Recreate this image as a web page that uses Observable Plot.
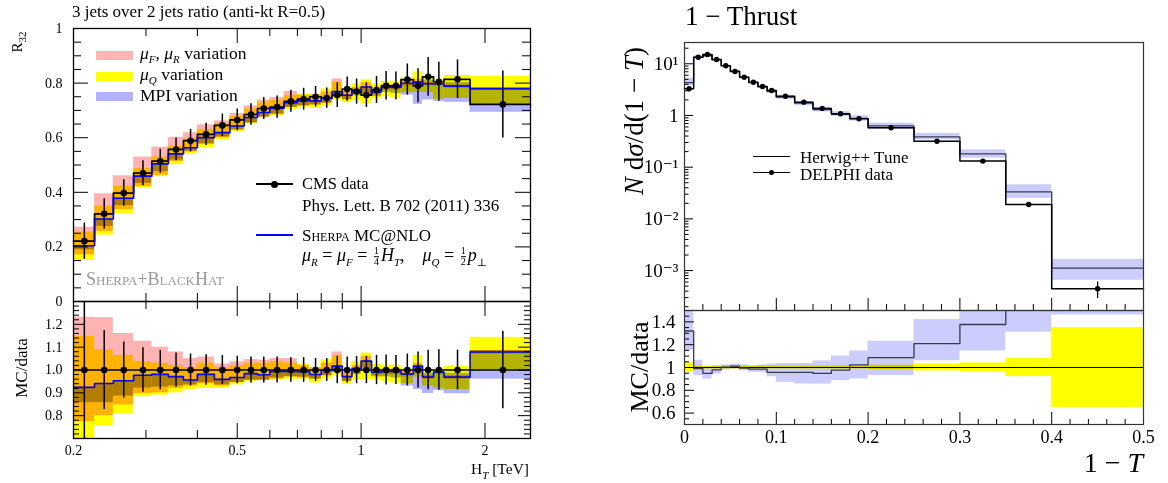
<!DOCTYPE html>
<html><head><meta charset="utf-8">
<script src="https://cdn.jsdelivr.net/npm/d3@7"></script>
<script src="https://cdn.jsdelivr.net/npm/@observablehq/plot@0.6"></script>
<style>
body{margin:0;background:#fff;}
#wrap{position:relative;width:1168px;height:483px;overflow:hidden;background:#fff;font-family:"Liberation Serif","DejaVu Serif",serif;}
.t{position:absolute;white-space:nowrap;color:#000;line-height:1;}
.fr{display:inline-block;vertical-align:middle;text-align:center;font-size:10px;line-height:1;margin:0 2px;}
.fr span{display:block;}
.fr span+span{border-top:1px solid #000;}
</style></head><body><div id="wrap"></div>
<script>
// ---------- Left panel: CMS R32 ----------
const edgesHT = [0.2,0.225,0.25,0.28,0.31,0.34,0.37,0.40,0.44,0.48,0.52,0.56,0.60,0.65,0.70,0.75,0.80,0.85,0.90,0.95,1.00,1.06,1.12,1.18,1.25,1.34,1.41,1.50,1.59,1.84,2.58];
const r32Data = [0.221,0.321,0.397,0.470,0.514,0.557,0.589,0.612,0.645,0.665,0.685,0.707,0.712,0.733,0.741,0.750,0.745,0.756,0.778,0.769,0.756,0.775,0.790,0.790,0.813,0.790,0.823,0.805,0.814,0.722];
const r32ErrRel = [0.30,0.173,0.123,0.097,0.086,0.075,0.070,0.067,0.064,0.060,0.057,0.057,0.057,0.054,0.054,0.050,0.050,0.060,0.057,0.060,0.060,0.064,0.066,0.064,0.070,0.079,0.086,0.089,0.087,0.170];
const sherpaRatio = [0.924,0.941,0.953,0.977,0.981,0.971,0.956,0.981,0.959,0.967,0.984,0.979,0.994,0.994,0.993,0.980,1.000,1.017,0.971,1.006,1.039,0.990,0.994,0.994,0.983,1.017,0.969,0.991,0.969,1.079];
const muFRLo = [0.774,0.80,0.847,0.897,0.90,0.92,0.93,0.94,0.93,0.945,0.955,0.955,0.96,0.97,0.965,0.96,0.975,0.99,0.95,0.985,1.01,0.975,0.98,0.98,0.97,1.0,0.96,0.98,0.96,1.07];
const muFRHi = [1.231,1.229,1.16,1.126,1.10,1.079,1.05,1.057,1.026,1.036,1.046,1.043,1.05,1.05,1.02,1.01,1.03,1.079,0.99,1.02,1.06,1.0,1.005,1.005,0.995,1.03,0.975,0.995,0.975,1.085];
const muQLo = [0.68,0.757,0.807,0.883,0.89,0.90,0.915,0.92,0.92,0.935,0.95,0.955,0.955,0.96,0.96,0.943,0.96,0.975,0.936,0.957,0.957,0.957,0.95,0.943,0.94,0.97,0.93,0.92,0.914,1.0];
const muQHi = [1.147,1.089,1.064,1.036,1.03,1.02,1.01,1.03,1.01,1.02,1.03,1.03,1.035,1.03,1.026,1.011,1.045,1.063,0.99,1.036,1.074,1.026,1.021,1.021,1.007,1.064,1.0,1.0,1.017,1.143];
const mpiLo = [0.857,0.857,0.886,0.921,0.925,0.93,0.935,0.945,0.935,0.945,0.955,0.955,0.965,0.97,0.969,0.96,0.975,0.99,0.95,0.98,1.0,0.97,0.97,0.965,0.93,0.914,0.897,0.91,0.896,0.96];
const mpiHi = [0.924,0.941,0.953,0.977,0.981,0.971,0.956,0.981,0.959,0.967,0.984,0.979,0.994,0.994,0.993,0.98,1.0,1.017,0.971,1.006,1.039,0.99,0.994,0.994,0.983,1.017,0.985,0.991,0.986,1.085];
const htMajorTicks = [0.5,1,2];
const htMinorTicks = [0.3,0.4,0.6,0.7,0.8,0.9];
const htLabels = [0.2,0.5,1,2];
const r32Labels = [0,0.2,0.4,0.6,0.8,1];
const ratioLabelsL = [0.8,0.9,1.0,1.1,1.2];

// ---------- Right panel: 1 - Thrust ----------
const edgesT = [0,0.01,0.02,0.03,0.04,0.05,0.06,0.07,0.08,0.09,0.10,0.12,0.14,0.16,0.18,0.20,0.25,0.30,0.35,0.40,0.50];
const delphiData = [3.28,13.4,15.1,12.1,9.15,7.1,5.5,4.4,3.64,3.04,2.36,1.81,1.37,1.08,0.863,0.578,0.318,0.131,0.019,0.000446];
const delphiErrRel = [0.04,0.012,0.012,0.012,0.012,0.012,0.012,0.012,0.012,0.012,0.012,0.012,0.012,0.012,0.012,0.02,0.03,0.04,0.08,0.35];
const herwigRatio = [1.32,0.991,0.948,0.98,1.003,1.012,0.994,0.986,0.986,0.957,0.957,0.957,0.948,0.977,1.023,1.087,1.21,1.377,1.75,2.5];
const herwigLo = [1.15,0.928,0.899,0.942,0.977,0.986,0.971,0.957,0.957,0.919,0.87,0.855,0.855,0.885,0.9,0.93,1.06,1.145,1.31,1.46];
const herwigHi = [1.6,1.064,1.006,1.014,1.023,1.029,1.023,1.014,1.023,1.029,1.035,1.035,1.058,1.1,1.145,1.23,1.42,1.65,2.4,3.7];
const tLabels = [0,0.1,0.2,0.3,0.4,0.5];
const decadeLabels = [10,1,0.1,0.01,0.001];
const ratioLabelsR = [0.6,0.8,1,1.2,1.4];

const FONT = '"Liberation Serif","DejaVu Serif",serif';
const PINK = "#ffb3b3", YEL = "#ffff00", MPI = "#b3b3ff", LAV = "#ccccff";
const wrap = document.getElementById("wrap");

const binsL = r32Data.map((v,i)=>({lo:edgesHT[i],hi:edgesHT[i+1],c:(edgesHT[i]+edgesHT[i+1])/2,v,e:r32ErrRel[i],mc:sherpaRatio[i],
  pl:muFRLo[i],ph:muFRHi[i],ql:muQLo[i],qh:muQHi[i],ml:mpiLo[i],mh:mpiHi[i]}));
const binsR = delphiData.map((v,i)=>({lo:edgesT[i],hi:edgesT[i+1],c:(edgesT[i]+edgesT[i+1])/2,v,e:delphiErrRel[i],mc:herwigRatio[i],bl:herwigLo[i],bh:herwigHi[i]}));
const step = (bins, f) => bins.flatMap(d=>[{x:d.lo,y:f(d)},{x:d.hi,y:f(d)}]);

function tk(values, axis, side, len, W, H, extra={}) {
  const o = {stroke:"#000", strokeWidth:1, ...extra};
  if (axis==="x") return Plot.tickX(values, {x:d=>d, ...(side==="bottom"?{insetTop:H-len}:{insetBottom:H-len}), ...o});
  return Plot.tickY(values, {y:d=>d, ...(side==="left"?{insetRight:W-len}:{insetLeft:W-len}), ...o});
}
function place(svg, left, top) {
  svg.style.position="absolute"; svg.style.left=left+"px"; svg.style.top=top+"px";
  wrap.appendChild(svg);
}
function blend(svg) {
  d3.select(svg).selectAll("g[aria-label='rect']").style("mix-blend-mode","multiply");
}
const st = (fs)=>({background:"transparent",overflow:"visible",fontFamily:FONT,fontSize:fs+"px",color:"#000"});

// Left main
{
  const W=457,H=273;
  const minorY = d3.range(1,20).map(i=>i*0.05).filter(v=>Math.abs(v*5-Math.round(v*5))>1e-6);
  const svg = Plot.plot({
    width:545,height:301,marginLeft:73,marginRight:15,marginTop:28,marginBottom:0,
    x:{type:"log",domain:[0.2,2.58],axis:null},
    y:{domain:[0,1]},
    style:st(14),
    marks:[
      Plot.rect(binsL,{x1:"lo",x2:"hi",y1:d=>d.ql*d.v,y2:d=>d.qh*d.v,fill:YEL,mixBlendMode:"multiply"}),
      Plot.rect(binsL,{x1:"lo",x2:"hi",y1:d=>d.pl*d.v,y2:d=>d.ph*d.v,fill:PINK,mixBlendMode:"multiply"}),
      Plot.rect(binsL,{x1:"lo",x2:"hi",y1:d=>d.ml*d.v,y2:d=>d.mh*d.v,fill:MPI,mixBlendMode:"multiply"}),
      Plot.line(step(binsL,d=>d.v),{x:"x",y:"y",stroke:"#000",strokeWidth:1.7}),
      Plot.line(step(binsL,d=>d.mc*d.v),{x:"x",y:"y",stroke:"#0000ff",strokeWidth:1.6}),
      Plot.ruleX(binsL,{x:"c",y1:d=>d.v*(1-d.e),y2:d=>d.v*(1+d.e),stroke:"#000",strokeWidth:1.5}),
      Plot.dot(binsL,{x:"c",y:"v",r:3.3,fill:"#000",stroke:null}),
      tk(htMajorTicks,"x","bottom",15,W,H), tk(htMinorTicks,"x","bottom",8,W,H),
      tk(htMajorTicks,"x","top",15,W,H), tk(htMinorTicks,"x","top",8,W,H),
      tk(r32Labels,"y","left",15,W,H), tk(minorY,"y","left",8,W,H),
      tk(r32Labels,"y","right",15,W,H), tk(minorY,"y","right",8,W,H),
      Plot.axisY({ticks:r32Labels,tickSize:0,tickPadding:11,tickFormat:d=>String(+d.toFixed(1)),label:null}),
      Plot.frame({stroke:"#000",strokeWidth:1.3})
    ]
  });
  blend(svg); place(svg,0,0);
}
// Left ratio
{
  const W=457,H=137;
  const minorY = d3.range(36,65).map(i=>i*0.02).filter(v=>Math.abs(v*10-Math.round(v*10))>1e-6);
  const majY = [0.7,0.8,0.9,1.0,1.1,1.2,1.3];
  const svg = Plot.plot({
    width:545,height:182,marginLeft:73,marginRight:15,marginTop:0,marginBottom:45,
    x:{type:"log",domain:[0.2,2.58]},
    y:{domain:[0.7,1.3]},
    style:st(14),
    marks:[
      Plot.rect(binsL,{x1:"lo",x2:"hi",y1:"ql",y2:"qh",fill:YEL,clip:true,mixBlendMode:"multiply"}),
      Plot.rect(binsL,{x1:"lo",x2:"hi",y1:"pl",y2:"ph",fill:PINK,clip:true,mixBlendMode:"multiply"}),
      Plot.rect(binsL,{x1:"lo",x2:"hi",y1:"ml",y2:"mh",fill:MPI,clip:true,mixBlendMode:"multiply"}),
      Plot.ruleY([1],{stroke:"#000",strokeWidth:1.7}),
      Plot.line(step(binsL,d=>d.mc),{x:"x",y:"y",stroke:"#0000ff",strokeWidth:1.6,clip:true}),
      Plot.ruleX(binsL,{x:"c",y1:d=>1-d.e,y2:d=>1+d.e,stroke:"#000",strokeWidth:1.5,clip:true}),
      Plot.dot(binsL,{x:"c",y:()=>1,r:3.3,fill:"#000",stroke:null}),
      tk(htMajorTicks,"x","bottom",15,W,H), tk(htMinorTicks,"x","bottom",8,W,H),
      tk(htMajorTicks,"x","top",15,W,H), tk(htMinorTicks,"x","top",8,W,H),
      tk(majY,"y","left",12,W,H), tk(minorY,"y","left",6,W,H),
      tk(majY,"y","right",12,W,H), tk(minorY,"y","right",6,W,H),
      Plot.axisY({ticks:ratioLabelsL,tickSize:0,tickPadding:11,tickFormat:d=>d.toFixed(1),label:null}),
      Plot.axisX({ticks:htLabels,tickSize:0,tickPadding:7,tickFormat:d=>String(d),label:null}),
      Plot.frame({stroke:"#000",strokeWidth:1.3})
    ]
  });
  blend(svg); place(svg,0,301);
}
// Right main
{
  const W=459,H=268;
  const minorX = d3.range(1,25).map(i=>i*0.02).filter(v=>Math.abs(v*10-Math.round(v*10))>1e-6);
  const minorLog = [];
  for (let e=-4;e<=1;e++) for (let m=2;m<=9;m++){const v=m*Math.pow(10,e); if(v>1.69e-4&&v<25.8) minorLog.push(v);}
  const svg = Plot.plot({
    width:568,height:310,marginLeft:84,marginRight:25,marginTop:42,marginBottom:0,
    x:{domain:[0,0.5],axis:null},
    y:{type:"log",domain:[1.69e-4,25.8]},
    style:st(19),
    marks:[
      Plot.rect(binsR,{x1:"lo",x2:"hi",y1:d=>d.bl*d.v,y2:d=>d.bh*d.v,fill:LAV,clip:true,mixBlendMode:"multiply"}),
      Plot.line(step(binsR,d=>d.mc*d.v),{x:"x",y:"y",stroke:"#3a3a4e",strokeWidth:1.3}),
      Plot.line(step(binsR,d=>d.v),{x:"x",y:"y",stroke:"#000",strokeWidth:1.5}),
      Plot.ruleX(binsR,{x:"c",y1:d=>d.v*(1-d.e),y2:d=>d.v*(1+d.e),stroke:"#000",strokeWidth:1.3}),
      Plot.dot(binsR,{x:"c",y:"v",r:2.7,fill:"#000",stroke:null}),
      tk(tLabels,"x","bottom",12,W,H), tk(minorX,"x","bottom",6,W,H),
      tk(decadeLabels,"y","left",9,W,H), tk(minorLog,"y","left",4.5,W,H),
      Plot.axisY({ticks:decadeLabels,tickSize:0,tickPadding:6,label:null,
        tickFormat:d=>({10:"10¹",1:"1",0.1:"10⁻¹",0.01:"10⁻²",0.001:"10⁻³"})[d]}),
      Plot.frame({stroke:"#333",strokeWidth:1.2})
    ]
  });
  blend(svg); place(svg,600,0);
}
// Right ratio
{
  const W=459,H=114;
  const minorX = d3.range(1,25).map(i=>i*0.02).filter(v=>Math.abs(v*10-Math.round(v*10))>1e-6);
  const minorYR = d3.range(10,31).map(i=>i*0.05).filter(v=>Math.abs(v*5-Math.round(v*5))>1e-6);
  const svg = Plot.plot({
    width:568,height:173,marginLeft:84,marginRight:25,marginTop:0,marginBottom:59,
    x:{domain:[0,0.5]},
    y:{domain:[0.5,1.5]},
    style:st(19),
    marks:[
      Plot.rect(binsR,{x1:"lo",x2:"hi",y1:d=>1-d.e,y2:d=>1+d.e,fill:YEL,clip:true,mixBlendMode:"multiply"}),
      Plot.rect(binsR,{x1:"lo",x2:"hi",y1:"bl",y2:"bh",fill:LAV,clip:true,mixBlendMode:"multiply"}),
      Plot.ruleY([1],{stroke:"#000",strokeWidth:1.2}),
      Plot.line(step(binsR,d=>d.mc),{x:"x",y:"y",stroke:"#3a3a4e",strokeWidth:1.3,clip:true}),
      tk(tLabels,"x","bottom",12,W,H), tk(minorX,"x","bottom",5,W,H),
      tk(ratioLabelsR,"y","left",10,W,H), tk(minorYR,"y","left",5,W,H),
      Plot.axisY({ticks:ratioLabelsR,tickSize:0,tickPadding:9,label:null,tickFormat:d=>String(+d.toFixed(1))}),
      Plot.axisX({ticks:tLabels,tickSize:0,tickPadding:6,label:null,tickFormat:d=>String(d),fontSize:18}),
      Plot.frame({stroke:"#333",strokeWidth:1.2})
    ]
  });
  blend(svg); place(svg,600,310);
}

// ---------- text & legends (HTML) ----------
function txt(html, left, cy, size, extra="") {
  const d=document.createElement("div"); d.className="t"; d.innerHTML=html;
  d.style.cssText += `left:${left}px;top:${cy}px;font-size:${size}px;transform:translateY(-50%);${extra}`;
  wrap.appendChild(d); return d;
}
function box(left, top, w, h, bg, extra="") {
  const d=document.createElement("div"); d.style.cssText=`position:absolute;left:${left}px;top:${top}px;width:${w}px;height:${h}px;background:${bg};${extra}`;
  wrap.appendChild(d);
}
const sub = s => `<sub style='font-size:11px'>${s}</sub>`;
// left
txt("3 jets over 2 jets ratio (anti-kt R=0.5)",72,11,17);
txt("R"+sub("32"),8,42,15,"transform:translate(0,-50%) rotate(-90deg);transform-origin:50% 50%;");
txt("MC/data",-8,368,17,"transform:translate(0,-50%) rotate(-90deg);");
box(96,51,37,9,PINK); box(96,72,37,9,YEL); box(96,92,37,9,MPI);
txt("<i>μ"+sub("F")+"</i>, <i>μ"+sub("R")+"</i> variation",140,55,17.5);
txt("<i>μ"+sub("Q")+"</i> variation",140,76,17.5);
txt("MPI variation",140,96,17.5);
box(256,183,37,1.6,"#000"); box(270.5,180.5,7,7,"#000","border-radius:50%;");
txt("CMS data",302,184,16.5);
txt("Phys. Lett. B 702 (2011) 336",302,205,17);
box(256,234,37,1.6,"#0000ff");
txt("<span style='font-variant:small-caps'>Sherpa</span> MC@NLO",302,235,17);
txt("<i>μ"+sub("R")+"</i> = <i>μ"+sub("F")+"</i> = <span class='fr'><span>1</span><span>4</span></span><i>H"+sub("T")+"</i>, &nbsp;&nbsp; <i>μ"+sub("Q")+"</i> = <span class='fr'><span>1</span><span>2</span></span><i>p</i>"+sub("⊥"),302,257,18);
txt("<span style='font-variant:small-caps'>Sherpa+BlackHat</span>",86,279,18,"color:#999;");
txt("H"+sub("<i>T</i>")+" [TeV]",0,471,15.5,"left:auto;right:639px;");
// right
txt("1 − Thrust",685,16,27);
txt("<i>N</i> d<i>σ</i>/d(1 − <i>T</i>)",634,121,27,"transform:translate(-50%,-50%) rotate(-90deg);");
txt("MC/data",640,367,26,"transform:translate(-50%,-50%) rotate(-90deg);");
txt("1 − <i>T</i>",0,463,28,"left:auto;right:25px;");
box(753,156,37,1.3,"#000");
txt("Herwig++ Tune",800,157,17);
box(753,172,37,1.3,"#000"); box(769,170,5,5,"#000","border-radius:50%;");
txt("DELPHI data",800,174,17);
</script></body></html>
